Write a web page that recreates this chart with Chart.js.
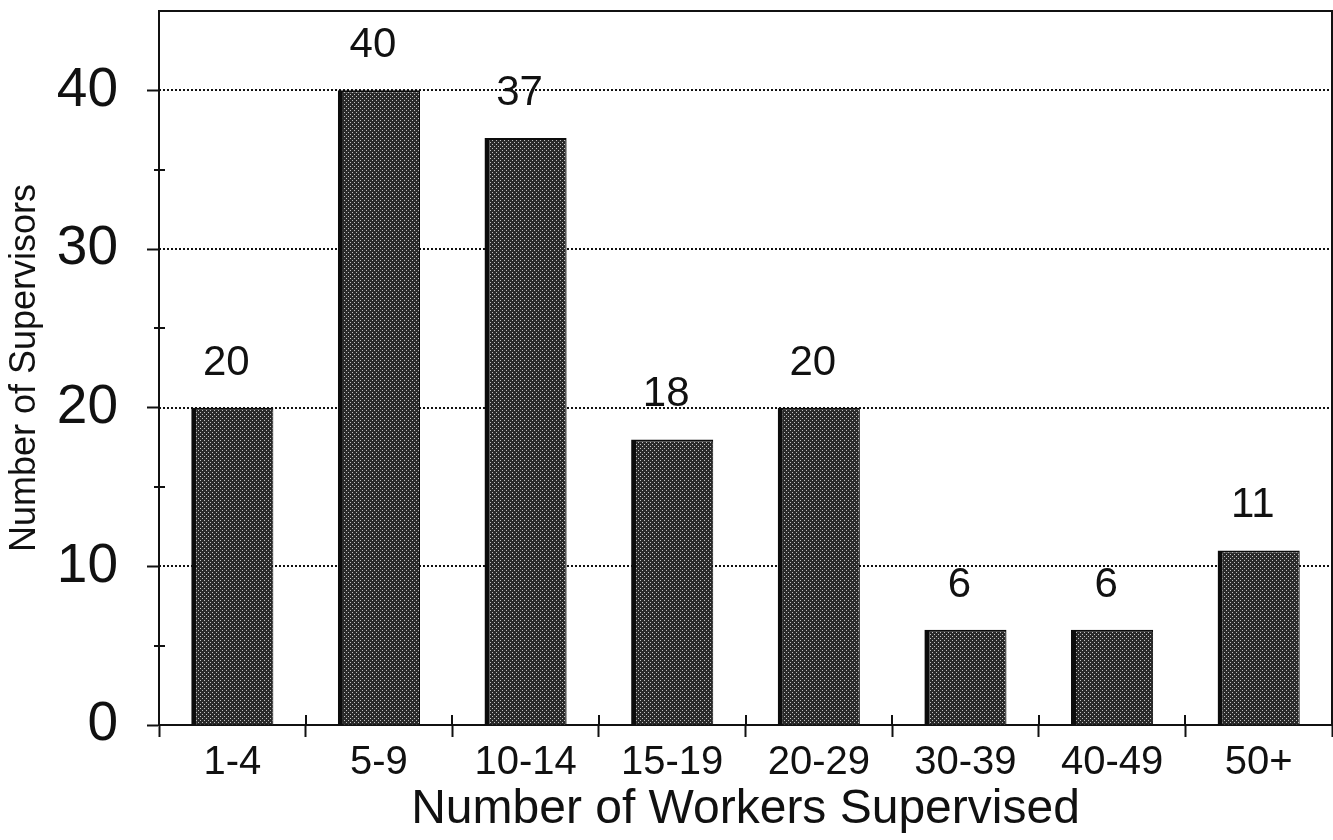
<!DOCTYPE html>
<html>
<head>
<meta charset="utf-8">
<title>Number of Workers Supervised</title>
<script src="https://cdn.jsdelivr.net/npm/chart.js@4"></script>
<style>
  html, body { margin: 0; padding: 0; background: #fff; }
  canvas { display: block; }
</style>
</head>
<body>
<canvas id="c" width="1333" height="840"></canvas>
<script>
// Supervisors grouped by how many workers they supervise
const categories = ['1-4', '5-9', '10-14', '15-19', '20-29', '30-39', '40-49', '50+'];
const supervisors = [20, 40, 37, 18, 20, 6, 6, 11];
const yTickLabels = [0, 10, 20, 30, 40];
const xAxisTitle = 'Number of Workers Supervised';
const yAxisTitle = 'Number of Supervisors';

const INK = '#111';
const FONT = "'Liberation Sans', Arial, Helvetica, sans-serif";
Chart.defaults.font.family = FONT;
Chart.defaults.color = INK;

const canvas = document.getElementById('c');
const mainCtx = canvas.getContext('2d');

// Dark stippled fill for the bars
function stipple() {
  const t = document.createElement('canvas');
  t.width = 4; t.height = 4;
  const g = t.getContext('2d');
  g.fillStyle = '#2a2a2a';
  g.fillRect(0, 0, 4, 4);
  g.fillStyle = '#c2c2c2';
  g.fillRect(0, 0, 1, 1);
  g.fillRect(2, 2, 1, 1);
  return mainCtx.createPattern(t, 'repeat');
}

// Dotted grid, frame, crossing tick marks and value labels
const decorations = {
  id: 'decorations',
  beforeDatasetsDraw(chart) {
    const { ctx, chartArea: a, scales: { y } } = chart;
    ctx.save();
    ctx.strokeStyle = INK;
    ctx.lineWidth = 2;
    ctx.setLineDash([2, 2]);
    yTickLabels.forEach(v => {
      if (v === 0) return;
      const py = Math.round(y.getPixelForValue(v));
      ctx.beginPath();
      ctx.moveTo(a.left, py);
      ctx.lineTo(a.right, py);
      ctx.stroke();
    });
    ctx.restore();
  },
  afterDatasetsDraw(chart) {
    const { ctx, chartArea: a, scales: { x, y } } = chart;
    ctx.save();
    ctx.strokeStyle = INK;
    ctx.lineWidth = 2;
    // top and right frame lines
    ctx.beginPath();
    ctx.moveTo(a.left, a.top);
    ctx.lineTo(a.right, a.top);
    ctx.lineTo(a.right, a.bottom);
    ctx.stroke();
    // minor y ticks crossing the axis
    y.ticks.forEach(t => {
      if (t.value % 10 === 0 || t.value >= y.max) return;
      const py = Math.round(y.getPixelForValue(t.value));
      ctx.beginPath();
      ctx.moveTo(a.left - 5, py);
      ctx.lineTo(a.left + 6, py);
      ctx.stroke();
    });
    // upper part of the category separator ticks
    for (let i = 0; i < categories.length - 1; i++) {
      const px = Math.round((x.getPixelForValue(i) + x.getPixelForValue(i + 1)) / 2);
      ctx.beginPath();
      ctx.moveTo(px, a.bottom - 10);
      ctx.lineTo(px, a.bottom);
      ctx.stroke();
    }
    // value labels above the bars
    ctx.fillStyle = INK;
    ctx.font = '42px ' + FONT;
    ctx.textAlign = 'center';
    ctx.textBaseline = 'alphabetic';
    const meta = chart.getDatasetMeta(0);
    meta.data.forEach((bar, i) => {
      ctx.fillText(String(supervisors[i]), bar.x - 6, bar.y - 33);
    });
    ctx.restore();
  }
};

new Chart(canvas, {
  type: 'bar',
  data: {
    labels: categories,
    datasets: [{
      data: supervisors,
      backgroundColor: stipple(),
      borderColor: '#0c0c0c',
      borderWidth: { left: 5, top: 2, right: 1, bottom: 0 },
      borderSkipped: false,
      categoryPercentage: 1,
      barPercentage: 0.56
    }]
  },
  options: {
    responsive: false,
    animation: false,
    devicePixelRatio: 1,
    layout: { padding: { top: 11, right: 1, left: 0, bottom: 0 } },
    plugins: {
      legend: { display: false },
      tooltip: { enabled: false }
    },
    scales: {
      x: {
        afterFit(s) { s.height = 115; s.paddingLeft = 0; s.paddingRight = 0; },
        grid: {
          offset: true,
          drawOnChartArea: false,
          drawTicks: true,
          tickLength: 12,
          tickWidth: 2,
          tickColor: INK
        },
        border: { display: true, color: INK, width: 2 },
        ticks: {
          autoSkip: false,
          maxRotation: 0,
          padding: 2,
          color: INK,
          font: { size: 40 }
        },
        title: {
          display: true,
          text: xAxisTitle,
          color: INK,
          font: { size: 48 },
          padding: { top: 0, bottom: 1 }
        }
      },
      y: {
        min: 0,
        max: 45,
        afterFit(s) { s.width = 159; s.paddingTop = 0; s.paddingBottom = 0; },
        grid: {
          drawOnChartArea: false,
          drawTicks: true,
          tickLength: 12,
          tickWidth: 2,
          tickColor: c => (c.tick && c.tick.value % 10 === 0 && c.tick.value < 45) ? INK : 'rgba(0,0,0,0)'
        },
        border: { display: true, color: INK, width: 2 },
        ticks: {
          stepSize: 5,
          autoSkip: false,
          padding: 29,
          color: INK,
          font: { size: 55 },
          callback: v => (yTickLabels.includes(v) ? String(v) : '')
        },
        title: {
          display: true,
          text: yAxisTitle,
          color: INK,
          font: { size: 36 },
          padding: { top: 3, bottom: 0 }
        }
      }
    }
  },
  plugins: [decorations]
});
</script>
</body>
</html>
